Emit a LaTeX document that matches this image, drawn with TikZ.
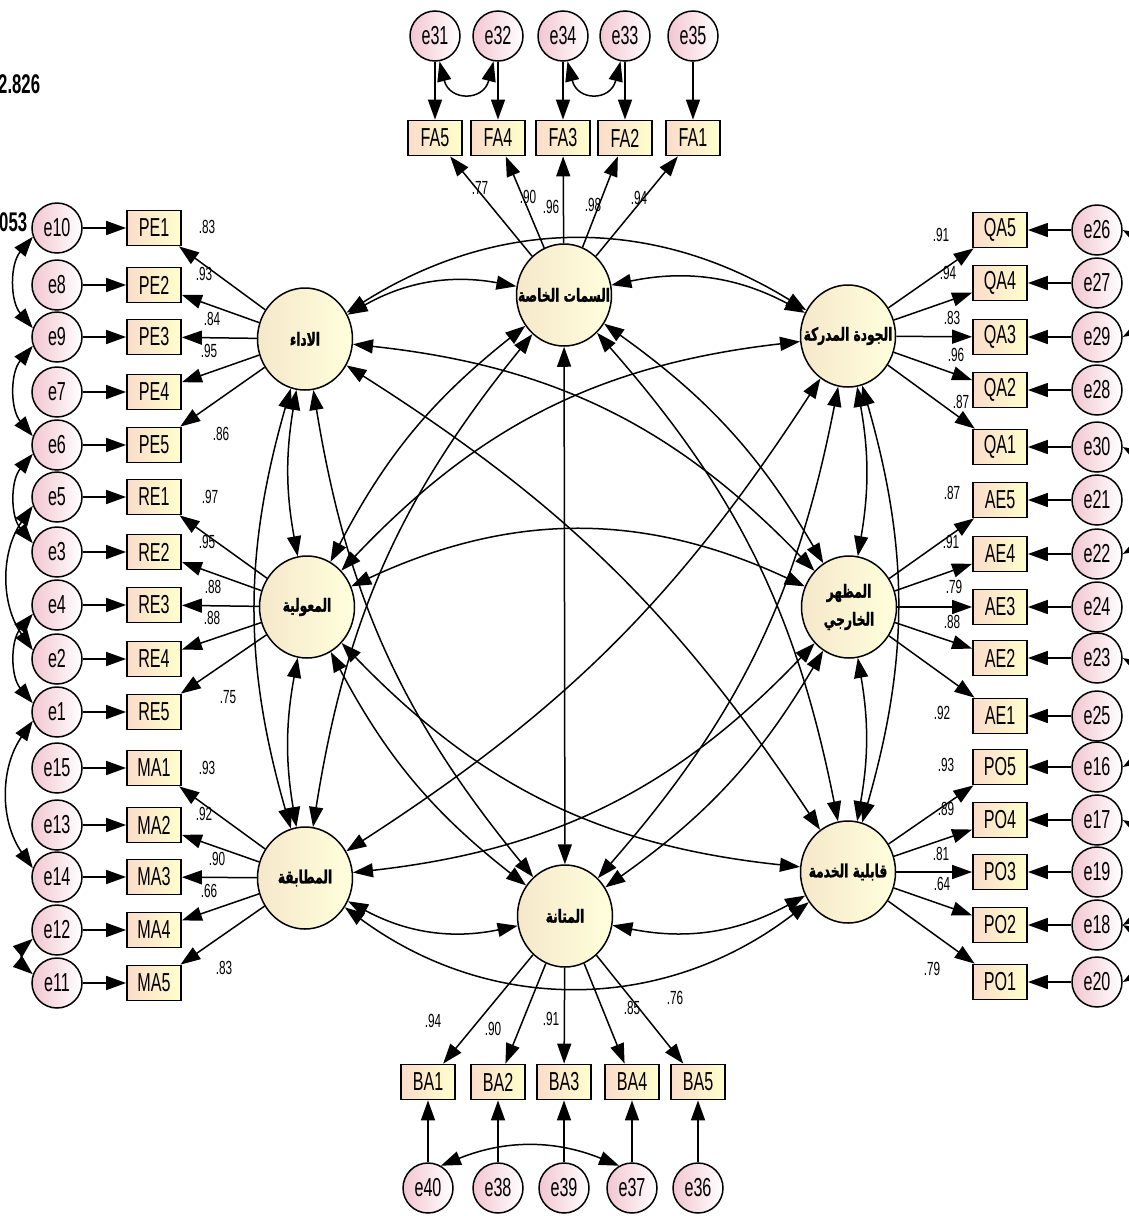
\documentclass[tikz,border=0pt]{standalone}
\usepackage{fontspec}
\setmainfont{Liberation Sans}[FakeStretch=0.62]
\newfontfamily\arabicfont[Script=Arabic,FakeStretch=0.68,FakeBold=1.4]{DejaVu Sans}
\TeXXeTstate=1
\usetikzlibrary{arrows.meta,shapes.geometric}

\definecolor{errpink}{HTML}{F2C6D3}
\definecolor{boxpeach}{HTML}{FBDCCB}
\definecolor{boxyellow}{HTML}{FFFFCC}
\definecolor{latleft}{HTML}{F5E8CA}
\definecolor{latright}{HTML}{FFFFDC}

% Подпись фактора без влияния на размер круга
\newcommand{\factorname}[1]{\makebox[0pt]{\hbox{\beginR #1\endR}}}

\tikzset{
  err/.style={ellipse, draw, line width=1.5pt,
    minimum width=50pt, minimum height=50pt, inner sep=0pt,
    left color=errpink, right color=white,
    font=\fontsize{26}{26}\selectfont},
  ind/.style={rectangle, draw, line width=1.8pt,
    minimum width=54pt, minimum height=35pt, inner sep=0pt,
    left color=boxpeach, right color=boxyellow,
    font=\fontsize{26}{26}\selectfont},
  lat/.style={ellipse, draw, line width=1.5pt,
    minimum width=95pt, minimum height=102pt, inner sep=0pt,
    left color=latleft, right color=latright, align=center,
    font=\arabicfont\bfseries\fontsize{18}{28}\selectfont},
  arr/.style={line width=1.5pt, -{Triangle[length=20pt,width=14pt]}},
  cov/.style={line width=1.5pt,
    {Triangle[length=20pt,width=14pt]}-{Triangle[length=20pt,width=14pt]}},
  est/.style={inner sep=0pt, font=\fontsize{19}{19}\selectfont},
  fit/.style={inner sep=0pt, font=\bfseries\fontsize{27}{27}\selectfont}
}

\begin{document}
\begin{tikzpicture}[x=1pt,y=1pt]
  \useasboundingbox (0,0) rectangle (1129,-1216);
  \clip (0,0) rectangle (1129,-1216);

  % Латентные факторы
  \node[lat] (P) at (305,-339) {\factorname{الاداء}};
  \node[lat] (R) at (307,-607) {\factorname{المعولية}};
  \node[lat] (M) at (305,-878) {\factorname{المطابقة}};
  \node[lat] (S) at (564,-295) {\factorname{السمات الخاصة}};
  \node[lat] (T) at (565,-916) {\factorname{المتانة}};
  \node[lat] (Q) at (848,-336) {\factorname{الجودة المدركة}};
  \node[lat] (A) at (849,-607) {\factorname{المظهر}\\\factorname{الخارجي}};
  \node[lat] (V) at (848,-872) {\factorname{قابلية الخدمة}};

  % Индикаторы слева и их ошибки
  \foreach \i/\e/\y in {PE1/e10/228, PE2/e8/285, PE3/e9/337, PE4/e7/392,
      PE5/e6/445, RE1/e5/497, RE2/e3/552, RE3/e4/605, RE4/e2/659,
      RE5/e1/712, MA1/e15/768, MA2/e13/825, MA3/e14/877, MA4/e12/930,
      MA5/e11/983} {
    \node[ind] (\i) at (154,-\y) {\i};
    \node[err] (\e) at (57,-\y) {\e};
    \draw[arr] (\e) -- (\i);
  }

  % Индикаторы справа и их ошибки
  \foreach \i/\e/\y in {QA5/e26/230, QA4/e27/283, QA3/e29/337, QA2/e28/390,
      QA1/e30/447, AE5/e21/500, AE4/e22/554, AE3/e24/607, AE2/e23/658,
      AE1/e25/716, PO5/e16/767, PO4/e17/820, PO3/e19/872, PO2/e18/925,
      PO1/e20/982} {
    \node[ind] (\i) at (1000,-\y) {\i};
    \node[err] (\e) at (1097,-\y) {\e};
    \draw[arr] (\e) -- (\i);
  }

  % Верхний ряд
  \foreach \i/\e/\x in {FA5/e31/435, FA4/e32/498, FA3/e34/563,
      FA2/e33/625, FA1/e35/693} {
    \node[ind] (\i) at (\x,-138) {\i};
    \node[err] (\e) at (\x,-36) {\e};
    \draw[arr] (\e) -- (\i);
  }

  % Нижний ряд
  \foreach \i/\e/\x in {BA1/e40/428, BA2/e38/498, BA3/e39/564,
      BA4/e37/632, BA5/e36/698} {
    \node[ind] (\i) at (\x,-1082) {\i};
    \node[err] (\e) at (\x,-1188) {\e};
    \draw[arr] (\e) -- (\i);
  }

  % Нагрузки
  \foreach \i in {PE1,PE2,PE3,PE4,PE5} \draw[arr] (P) -- (\i);
  \foreach \i in {RE1,RE2,RE3,RE4,RE5} \draw[arr] (R) -- (\i);
  \foreach \i in {MA1,MA2,MA3,MA4,MA5} \draw[arr] (M) -- (\i);
  \foreach \i in {FA1,FA2,FA3,FA4,FA5} \draw[arr] (S) -- (\i);
  \foreach \i in {BA1,BA2,BA3,BA4,BA5} \draw[arr] (T) -- (\i);
  \foreach \i in {QA1,QA2,QA3,QA4,QA5} \draw[arr] (Q) -- (\i);
  \foreach \i in {AE1,AE2,AE3,AE4,AE5} \draw[arr] (A) -- (\i);
  \foreach \i in {PO1,PO2,PO3,PO4,PO5} \draw[arr] (V) -- (\i);

  % Корреляции между факторами
  \draw[cov] (P) to[bend left=20] (S);
  \draw[cov] (S) to[bend left=20] (Q);
  \draw[cov] (P) to[bend left=32] (Q);
  \draw[cov] (M) to[bend right=20] (T);
  \draw[cov] (T) to[bend right=20] (V);
  \draw[cov] (M) to[bend right=37] (V);
  \draw[cov] (P) to[bend right=10] (R);
  \draw[cov] (R) to[bend right=10] (M);
  \draw[cov] (P) to[bend right=16] (M);
  \draw[cov] (Q) to[bend left=10] (A);
  \draw[cov] (A) to[bend left=10] (V);
  \draw[cov] (Q) to[bend left=16] (V);
  \draw[cov] (S) -- (T);
  \draw[cov] (R) to[bend left=25] (A);
  \draw[cov] (P) to[bend right=15] (T);
  \draw[cov] (M) to[bend left=15] (S);
  \draw[cov] (Q) to[bend left=15] (T);
  \draw[cov] (V) to[bend right=15] (S);
  \draw[cov] (P) to[bend left=12] (V);
  \draw[cov] (M) to[bend right=12] (Q);
  \draw[cov] (P) to[bend left=20] (A);
  \draw[cov] (M) to[bend right=20] (A);
  \draw[cov] (R) to[bend left=20] (Q);
  \draw[cov] (R) to[bend right=20] (V);
  \draw[cov] (R) to[bend left=12] (S);
  \draw[cov] (R) to[bend right=12] (T);
  \draw[cov] (A) to[bend right=12] (S);
  \draw[cov] (A) to[bend left=12] (T);

  % Корреляции ошибок
  \draw[cov] (e10.200) to[bend right=40] (e9.160);
  \draw[cov] (e9.200) to[bend right=40] (e6.160);
  \draw[cov] (e6.200) to[bend right=40] (e3.160);
  \draw[cov] (e5.200) to[bend right=35] (e2.160);
  \draw[cov] (e4.200) to[bend right=40] (e1.160);
  \draw[cov] (e1.200) to[bend right=35] (e14.160);
  \draw[cov] (e12.200) to[bend right=50] (e11.160);

  \draw[cov] (e26.east) to[bend left=60] (e29.east);
  \draw[cov] (e30.east) to[bend left=60] (e22.east);
  \draw[cov] (e23.east) to[bend left=60] (e16.east);
  \draw[cov] (e17.east) to[bend left=60] (e18.east);
  \draw[cov] (e18.east) to[bend left=60] (e20.east);

  \draw[cov] (e31.-80) .. controls +(10,-40) and +(-10,-40) .. (e32.-100);
  \draw[cov] (e34.-80) .. controls +(10,-40) and +(-10,-40) .. (e33.-100);
  \draw[cov] (e40.60) to[bend left=22] (e37.120);

  % Значения нагрузок
  \foreach \i/\v/\x/\y in {PE1/.83/207/227, PE2/.93/204/274, PE3/.84/212/319,
      PE4/.95/209/351, PE5/.86/221/434, RE1/.97/210/497, RE2/.95/207/542,
      RE3/.88/213/587, RE4/.88/212/618, RE5/.75/228/697, MA1/.93/207/768,
      MA2/.92/204/814, MA3/.90/217/859, MA4/.66/209/891, MA5/.83/224/968,
      FA5/.77/480/188, FA4/.90/528/197, FA3/.96/551/207, FA2/.98/593/205,
      FA1/.94/639/198,
      QA5/.91/941/235, QA4/.94/948/273, QA3/.83/952/318, QA2/.96/956/355,
      QA1/.87/961/402, AE5/.87/952/493, AE4/.91/951/542, AE3/.79/954/587,
      AE2/.88/952/622, AE1/.92/942/713, PO5/.93/946/765, PO4/.89/946/809,
      PO3/.81/941/854, PO2/.64/942/884, PO1/.79/932/969,
      BA1/.94/433/1021, BA2/.90/493/1029, BA3/.91/551/1019,
      BA4/.85/632/1008, BA5/.76/675/998} {
    \node[est] (w\i) at (\x,-\y) {\v};
  }

  % Остатки подписей модели
  \node[fit, anchor=west] (chi) at (-2,-84) {2.826};
  \node[fit, anchor=west] (rmsea) at (-1,-222) {053};
\end{tikzpicture}
\end{document}
